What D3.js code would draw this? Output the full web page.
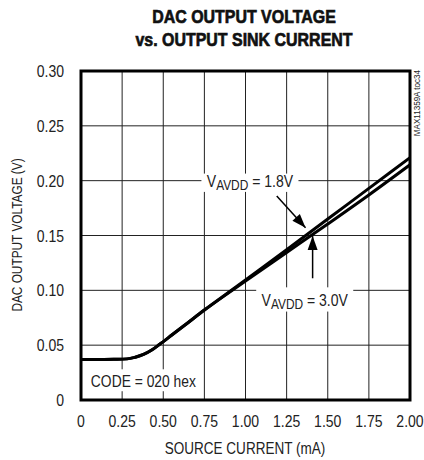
<!DOCTYPE html>
<html>
<head>
<meta charset="utf-8">
<script src="https://cdn.jsdelivr.net/npm/d3@7"></script>
<style>
  html, body { margin: 0; padding: 0; background: #fff; }
  svg { display: block; }
  text { font-family: "Liberation Sans Narrow", "Arial Narrow", "Liberation Sans", sans-serif; fill: #222; }
</style>
</head>
<body>
<svg id="chart" width="424" height="460"></svg>
<script>
// Source current (mA) sample points
const current = [0, 0.10, 0.20, 0.28, 0.33, 0.38, 0.43, 0.48, 0.55, 0.65, 0.75, 0.90, 1.00, 1.25, 1.50, 1.75, 2.00];
// DAC output voltage (V) for each supply
const vAvdd18 = [0.037, 0.037, 0.0372, 0.0375, 0.0390, 0.0415, 0.0455, 0.0510, 0.0590, 0.0705, 0.0820, 0.0985, 0.1095, 0.1370, 0.1650, 0.1930, 0.2210];
const vAvdd30 = [0.037, 0.037, 0.0372, 0.0375, 0.0390, 0.0415, 0.0455, 0.0510, 0.0590, 0.0705, 0.0820, 0.0980, 0.1085, 0.1345, 0.1605, 0.1870, 0.2145];
const xTicks = [0, 0.25, 0.5, 0.75, 1.0, 1.25, 1.5, 1.75, 2.0];
const xTickLabels = ["0", "0.25", "0.50", "0.75", "1.00", "1.25", "1.50", "1.75", "2.00"];
const yTicks = [0, 0.05, 0.10, 0.15, 0.20, 0.25, 0.30];
const yTickLabels = ["0", "0.05", "0.10", "0.15", "0.20", "0.25", "0.30"];

const svg = d3.select("#chart");
const M = { left: 81, right: 410, top: 71, bottom: 400 };
const x = d3.scaleLinear().domain([0, 2]).range([M.left, M.right]);
const y = d3.scaleLinear().domain([0, 0.3]).range([M.bottom, M.top]);

// Condensed text: horizontally squeezed around its anchor point
function ctext(parent, px, py, sx, size, anchor, rot) {
  const tr = `translate(${px},${py})` + (rot ? ` rotate(${rot})` : "") + ` scale(${sx},1)`;
  return parent.append("text").attr("transform", tr)
    .attr("text-anchor", anchor || "middle").style("font-size", size + "px");
}

// Title (heavy condensed)
[["DAC OUTPUT VOLTAGE", 23], ["vs. OUTPUT SINK CURRENT", 46]].forEach(([s, ty]) => {
  ctext(svg, 244, ty, 0.84, 19, "middle").style("font-weight", "bold")
    .style("fill", "#111").style("stroke", "#111").style("stroke-width", 0.7).text(s);
});

// Grid
const g = svg.append("g");
g.selectAll(".vg").data(xTicks.slice(1, -1)).enter().append("line")
  .attr("x1", d => x(d)).attr("x2", d => x(d))
  .attr("y1", M.top).attr("y2", M.bottom)
  .attr("stroke", "#222").attr("stroke-width", 1);
g.selectAll(".hg").data(yTicks.slice(1, -1)).enter().append("line")
  .attr("y1", d => y(d)).attr("y2", d => y(d))
  .attr("x1", M.left).attr("x2", M.right)
  .attr("stroke", "#222").attr("stroke-width", 1);

// Tick labels
xTicks.forEach((d, i) => ctext(svg, x(d), 427, 0.85, 16.5, "middle").text(xTickLabels[i]));
yTicks.forEach((d, i) => ctext(svg, 64, y(d) + 6, 0.85, 16.5, "end").text(yTickLabels[i]));

// Axis titles
ctext(svg, 245, 454, 0.82, 16.5, "middle").text("SOURCE CURRENT (mA)");
ctext(svg, 22, 235, 0.79, 15, "middle", -90).text("DAC OUTPUT VOLTAGE (V)");

// Part note on the right
ctext(svg, 420, 70, 0.85, 9.5, "end", -90).text("MAX11359A toc34");

// Curves
const line = d3.line().x(d => x(d[0])).y(d => y(d[1])).curve(d3.curveMonotoneX);
svg.append("clipPath").attr("id", "plotclip").append("rect")
  .attr("x", M.left - 2).attr("y", M.top).attr("width", M.right - M.left + 2).attr("height", M.bottom - M.top);
[vAvdd30, vAvdd18].forEach(vals => {
  svg.append("path").datum(current.map((c, i) => [c, vals[i]]))
    .attr("d", line).attr("fill", "none").attr("stroke", "#000")
    .attr("stroke-width", 3).attr("clip-path", "url(#plotclip)");
});

// Curve label with subscript, on a white patch that hides the grid behind it
function label(cx, gridV, baseY, main, sub, rest) {
  const sx = 0.85;
  const t = ctext(svg, x(cx), baseY, sx, 16.5, "middle");
  t.append("tspan").text(main);
  t.append("tspan").attr("dy", 3).style("font-size", "14px").text(sub);
  t.append("tspan").attr("dy", -3).text(rest);
  const bb = t.node().getBBox();
  const w = bb.width * sx;
  const top = Math.min(y(gridV) - 3, baseY + bb.y + 2);
  const bottom = baseY + bb.y + bb.height - 1;
  svg.insert("rect", () => t.node())
    .attr("x", x(cx) - w / 2 - 5).attr("y", top).attr("width", w + 10).attr("height", bottom - top)
    .attr("fill", "#fff");
}

function arrow(x1, y1, x2, y2) {
  svg.append("line").attr("x1", x1).attr("y1", y1).attr("x2", x2).attr("y2", y2)
    .attr("stroke", "#000").attr("stroke-width", 1.5);
  const a = Math.atan2(y2 - y1, x2 - x1), L = 14, W = 5;
  const bx = x2 - L * Math.cos(a), by = y2 - L * Math.sin(a);
  svg.append("path").attr("fill", "#000")
    .attr("d", `M${x2},${y2} L${bx + W * Math.sin(a)},${by - W * Math.cos(a)} L${bx - W * Math.sin(a)},${by + W * Math.cos(a)} Z`);
}

// V_AVDD = 1.8V annotation
label(1.027, 0.20, y(0.20) + 6, "V", "AVDD", " = 1.8V");
arrow(x(1.19), y(0.186), x(1.365), y(0.157));

// V_AVDD = 3.0V annotation
label(1.36, 0.10, y(0.10) + 16, "V", "AVDD", " = 3.0V");
arrow(x(1.408), y(0.111), x(1.408), y(0.1495));

// Code box
svg.append("rect").attr("x", x(0) + 1).attr("y", y(0.028)).attr("width", x(0.725) - x(0))
  .attr("height", y(0.008) - y(0.028)).attr("fill", "#fff");
ctext(svg, x(0.06), y(0.012), 0.84, 16.5, "start").text("CODE = 020 hex");

// Frame
svg.append("rect").attr("x", M.left).attr("y", M.top)
  .attr("width", M.right - M.left).attr("height", M.bottom - M.top)
  .attr("fill", "none").attr("stroke", "#000").attr("stroke-width", 3);
</script>
</body>
</html>
